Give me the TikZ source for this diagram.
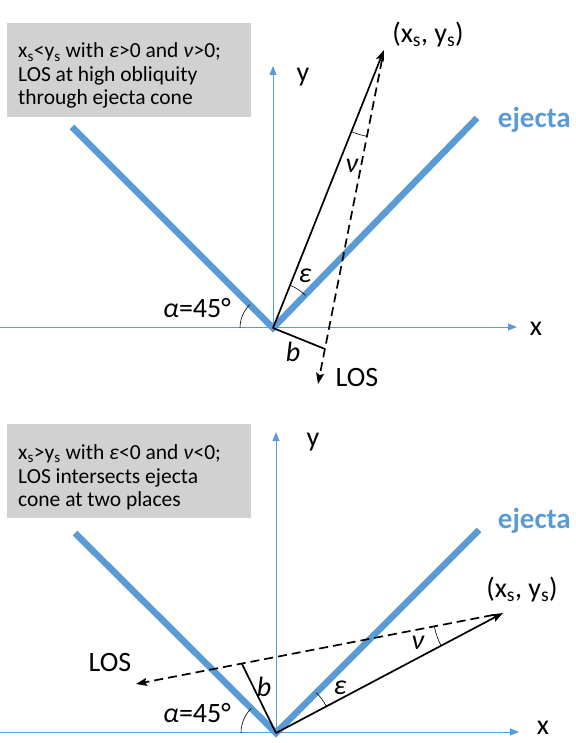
\documentclass[tikz,border=0pt]{standalone}
\usepackage{fontspec}
\setmainfont{Carlito}
\usetikzlibrary{arrows.meta}
\definecolor{ejblue}{RGB}{91,155,213}
\definecolor{boxgray}{RGB}{209,209,209}
\newcommand{\fsz}[1]{\fontsize{#1}{#1}\selectfont}
\begin{document}
\begin{tikzpicture}[x=1pt,y=-1pt,
  axisline/.style={ejblue,line width=1pt,-{Triangle[length=9pt,width=7pt]}},
  ejline/.style={ejblue,line width=6.5pt},
  vecline/.style={line width=1.7pt,-{Stealth[length=11pt,width=8pt,inset=2pt]}},
  losline/.style={line width=1.7pt,dash pattern=on 9pt off 5pt,-{Stealth[length=11pt,width=8pt,inset=2pt]}},
  bline/.style={line width=1.7pt},
  angarc/.style={line width=0.6pt},
  graybox/.style={fill=boxgray,draw=none,anchor=north west,inner sep=0pt,minimum width=244pt,minimum height=94pt},
  boxtext/.style={anchor=base west,inner sep=0pt,font=\fsz{21.5}},
  lbl/.style={inner sep=0pt,font=\fsz{28}},
  ejlbl/.style={inner sep=0pt,anchor=east,font=\bfseries\fsz{29},text=ejblue},
]
\useasboundingbox (0,0) rectangle (575,743);

% ---------------- top panel ----------------
\node[graybox] (box1) at (7,23) {};
\node[boxtext] (t1a) at (18,58) {x\textsubscript{s}<y\textsubscript{s} with \textit{ε}>0 and \textit{ν}>0;};
\node[boxtext] (t1b) at (18,82) {LOS at high obliquity};
\node[boxtext] (t1c) at (18,105) {through ejecta cone};

\coordinate (V1) at (273,328);
\coordinate (XL1) at (0,327);
\coordinate (XR1) at (517,327);
\coordinate (YT1) at (273,66);
\coordinate (EL1) at (72,127);
\coordinate (ER1) at (477,118);
\coordinate (S1) at (384,50);
\coordinate (LS1) at (382,60);
\coordinate (LE1) at (318,384);
\coordinate (F1) at (325,349);

\draw[axisline] (XL1) -- (XR1);
\draw[axisline] (V1) -- (YT1);
\draw[ejline] (EL1) -- (V1) -- (ER1);
\draw[vecline] (V1) -- (S1);
\draw[losline] (LS1) -- (LE1);
\draw[bline] (V1) -- (F1);
\draw[angarc] ([shift={(180:33)}]V1) arc[start angle=180,end angle=225,radius=33];
\draw[angarc] ([shift={(-68:46)}]V1) arc[start angle=-68,end angle=-45,radius=46];
\draw[angarc] ([shift={(101:88)}]S1) arc[start angle=101,end angle=112,radius=88];

\node[lbl] (xy1) at (428,35) {(x\textsubscript{s}, y\textsubscript{s})};
\node[lbl] (ylab1) at (303,77) {y};
\node[lbl] (xlab1) at (536,329) {x};
\node[ejlbl] (ej1) at (571,120) {ejecta};
\node[lbl] (nu1) at (352,166) {\textit{ν}};
\node[lbl] (eps1) at (305,276) {\textit{ε}};
\node[lbl] (al1) at (197,308) {\textit{α}=45°};
\node[lbl] (b1) at (293,352) {\textit{b}};
\node[lbl] (los1) at (357,378) {LOS};

% ---------------- bottom panel ----------------
\node[graybox] (box2) at (7,424) {};
\node[boxtext] (t2a) at (18,459) {x\textsubscript{s}>y\textsubscript{s} with \textit{ε}<0 and \textit{ν}<0;};
\node[boxtext] (t2b) at (18,483) {LOS intersects ejecta};
\node[boxtext] (t2c) at (18,506) {cone at two places};

\coordinate (V2) at (276,733);
\coordinate (XL2) at (0,732);
\coordinate (XR2) at (519,732);
\coordinate (YT2) at (276,432);
\coordinate (EL2) at (75,533);
\coordinate (ER2) at (479,530);
\coordinate (S2) at (503,613);
\coordinate (LS2) at (493,615);
\coordinate (LE2) at (136,684);
\coordinate (F2) at (242,664);

\draw[axisline] (XL2) -- (XR2);
\draw[axisline] (V2) -- (YT2);
\draw[ejline] (EL2) -- (V2) -- (ER2);
\draw[vecline] (V2) -- (S2);
\draw[losline] (LS2) -- (LE2);
\draw[bline] (V2) -- (F2);
\draw[angarc] ([shift={(180:35)}]V2) arc[start angle=180,end angle=225,radius=35];
\draw[angarc] ([shift={(-45:57)}]V2) arc[start angle=-45,end angle=-28,radius=57];
\draw[angarc] ([shift={(152:70)}]S2) arc[start angle=152,end angle=169,radius=70];

\node[lbl] (xy2) at (522,590) {(x\textsubscript{s}, y\textsubscript{s})};
\node[lbl] (ylab2) at (313,442) {y};
\node[lbl] (xlab2) at (543,728) {x};
\node[ejlbl] (ej2) at (571,521) {ejecta};
\node[lbl] (nu2) at (418,643) {\textit{ν}};
\node[lbl] (eps2) at (340,688) {\textit{ε}};
\node[lbl] (al2) at (197,713) {\textit{α}=45°};
\node[lbl] (b2) at (264,687) {\textit{b}};
\node[lbl] (los2) at (110,663) {LOS};
\end{tikzpicture}
\end{document}
